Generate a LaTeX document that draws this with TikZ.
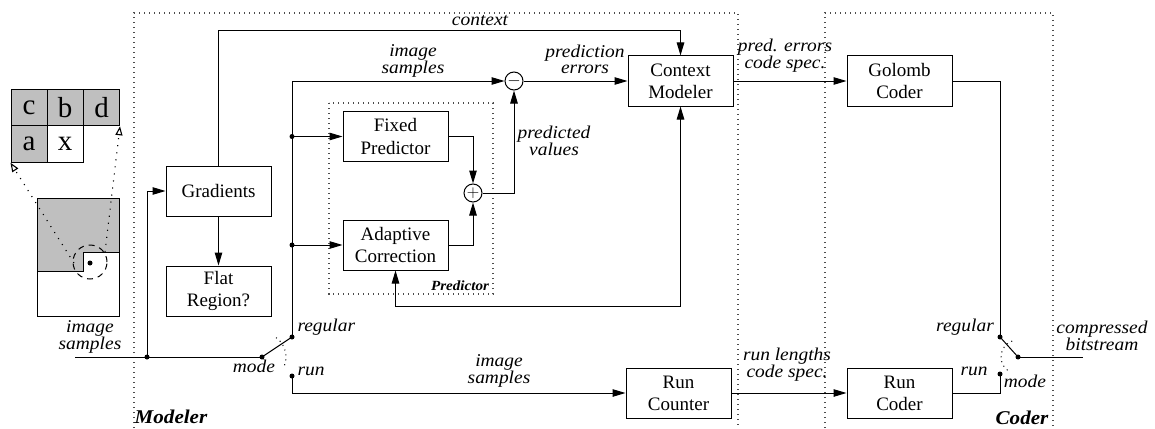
\documentclass[tikz,border=0pt]{standalone}
\usepackage{fontspec}
\setmainfont{Liberation Serif}
\newfontfamily\lblfont[FakeStretch=1.08]{Liberation Serif}
\usetikzlibrary{arrows.meta,calc}
\begin{document}
\begin{tikzpicture}[x=1pt,y=1pt, line width=1pt,
 box/.style={draw, minimum width=105pt, minimum height=50pt, align=center, inner sep=0pt, font=\fontsize{19}{22}\selectfont},
 lbl/.style={align=center, inner sep=0pt, font=\lblfont\itshape\fontsize{18}{16}\selectfont},
 ttl/.style={inner sep=0pt, font=\lblfont\bfseries\itshape\fontsize{19.5}{20}\selectfont},
 arr/.style={-{Triangle[length=13pt,width=7.5pt]}},
 dblarr/.style={{Triangle[length=13pt,width=7.5pt]}-{Triangle[length=13pt,width=7.5pt]}},
 dotbox/.style={draw=black!70, line width=1.2pt, dash pattern=on 1.2pt off 3.8pt},
 thindot/.style={draw=black, line width=1.1pt, dash pattern=on 1.1pt off 6pt},
 opentip/.style={-{Triangle[open,length=9pt,width=7pt]}},
 sumc/.style={circle, draw, inner sep=0pt, minimum size=18pt, font=\fontsize{16}{16}\selectfont},
 cell/.style={draw, minimum width=36pt, minimum height=36.5pt, inner sep=0pt, font=\fontsize{29}{29}\selectfont}
]
\useasboundingbox (0,0) rectangle (1155,-428);

% ---------- pixel neighbourhood ----------
\node[cell, fill=black!25] (gc) at (29,-107.5) {c};
\node[cell, fill=black!25] (gb) at (65,-107.5) {b};
\node[cell, fill=black!25] (gd) at (101.5,-107.5) {d};
\node[cell, fill=black!25] (ga) at (29,-144) {a};
\node[cell, fill=white] (gx) at (65,-144) {x};

% ---------- image thumbnail ----------
\fill[black!25] (37,-198) -- (119,-198) -- (119,-252) -- (83,-252) -- (83,-271) -- (37,-271) -- cycle;
\draw (37,-198) rectangle (119,-316);
\draw (37,-271) -- (83,-271) -- (83,-252) -- (119,-252);
\coordinate (cur) at (90,-262);
\draw[dash pattern=on 6pt off 5pt] (cur) circle (17);
\fill (90,-263) circle (2.5);
\draw[thindot, opentip] (74,-263) -- (ga.south west);
\draw[thindot, opentip] (105,-252) -- (gd.south east);

% ---------- group frames ----------
\draw[dotbox] (134,-428) -- (134,-13) -- (738,-13) -- (738,-428);
\draw[dotbox] (825,-428) -- (825,-13) -- (1053,-13) -- (1053,-428);
\draw[dotbox] (329,-103) rectangle (493,-294);
\node[ttl] (tmod) at (171,-417) {Modeler};
\node[ttl] (tcod) at (1022,-418) {Coder};
\node[ttl, font=\lblfont\bfseries\itshape\fontsize{14}{15}\selectfont] (tpred) at (460,-286) {Predictor};

% ---------- blocks ----------
\node[box] (grad) at (218.5,-191) {Gradients};
\node[box] (flat) at (218.5,-291) {Flat\\Region?};
\node[box] (fixed) at (395.5,-136.5) {Fixed\\Predictor};
\node[box] (adapt) at (395.5,-245) {Adaptive\\Correction};
\node[box] (cm) at (680.5,-81) {Context\\Modeler};
\node[box] (golomb) at (899.5,-81) {Golomb\\Coder};
\node[box] (rcount) at (678.5,-393) {Run\\Counter};
\node[box] (rcoder) at (899.5,-393) {Run\\Coder};
\node[sumc] (minus) at (514,-81) {$-$};
\node[sumc] (plus) at (473,-193) {$+$};

% ---------- switch 1 (modeler) ----------
\coordinate (in0) at (75,-357);
\coordinate (j1) at (147,-357);
\coordinate (sw1) at (262,-357);
\coordinate (r1) at (292,-337);
\coordinate (u1) at (292,-376);
\coordinate (d1) at (292,-136.5);
\coordinate (d2) at (292,-245);
\draw (in0) -- (sw1);
\draw (sw1) -- (r1);
\draw[thindot, line width=1pt, dash pattern=on 1pt off 4pt] (sw1) ++(-20:24) arc (-20:60:24);
\foreach \p in {j1,sw1,r1,u1,d1,d2} \fill (\p) circle (2.5);

% ---------- switch 2 (coder) ----------
\coordinate (r2) at (1000,-337);
\coordinate (u2) at (1000,-374);
\coordinate (sw2) at (1018,-357);
\coordinate (out) at (1083,-357);
\draw (r2) -- (sw2);
\draw (sw2) -- (out);
\draw[thindot, line width=1pt, dash pattern=on 1pt off 4pt] (sw2) ++(110:17) arc (110:235:17);
\foreach \p in {r2,u2,sw2} \fill (\p) circle (2.5);

% ---------- connectors ----------
\draw[arr] (j1) |- (grad.west);
\draw[arr] (grad.south) -- (flat.north);
\draw[arr] (grad.north) -- ++(0,135) -| (cm.north);
\draw[arr] (r1) |- (minus.west);
\draw[arr] (d1) -- (fixed.west);
\draw[arr] (d2) -- (adapt.west);
\draw[arr] (fixed.east) -| (plus.north);
\draw[arr] (adapt.east) -| (plus.south);
\draw[arr] (plus.east) -| (minus.south);
\draw[arr] (minus.east) -- (cm.west);
\draw[dblarr] (adapt.south) -- ++(0,-36) -| (cm.south);
\draw[arr] (cm.east) -- (golomb.west);
\draw[arr] (u1) |- (rcount.west);
\draw[arr] (rcount.east) -- (rcoder.west);
\draw (golomb.east) -| (r2);
\draw (rcoder.east) -| (u2);

% ---------- labels ----------
\node[lbl] (lctx) at (480,-21) {context};
\node[lbl] (lis1) at (413,-61) {image\\samples};
\node[lbl] (lpe) at (585,-59) {prediction\\errors};
\node[lbl] (lpv) at (554,-141) {predicted\\values};
\node[lbl] (lpes) at (785,-56) {pred. errors\\code spec.};
\node[lbl] (lrl) at (787,-365) {run lengths\\code spec.};
\node[lbl] (lis2) at (499,-371) {image\\samples};
\node[lbl] (lis0) at (90,-337) {image\\samples};
\node[lbl, anchor=west] (lreg1) at (297,-327) {regular};
\node[lbl, anchor=west] (lrun1) at (297,-371) {run};
\node[lbl] (lmode1) at (254,-366) {mode};
\node[lbl] (lreg2) at (965,-327) {regular};
\node[lbl] (lrun2) at (974,-371) {run};
\node[lbl] (lmode2) at (1025,-381) {mode};
\node[lbl] (lcb) at (1102,-336) {compressed\\bitstream};
\end{tikzpicture}
\end{document}
